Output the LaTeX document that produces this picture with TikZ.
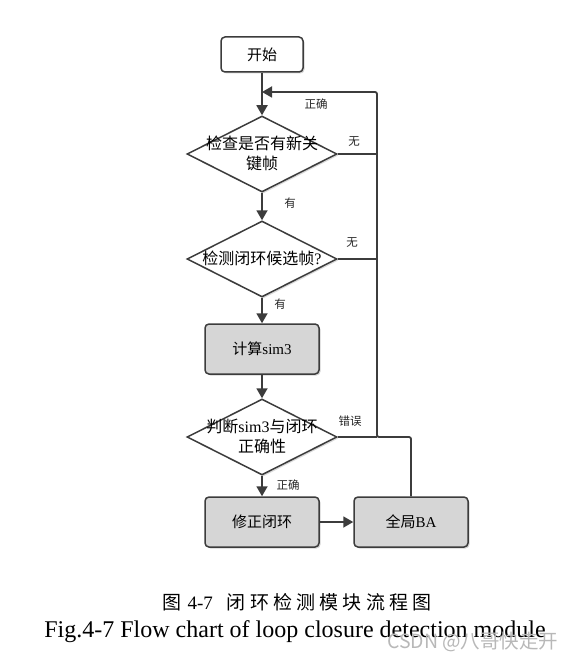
\documentclass[tikz,border=0pt]{standalone}
\usepackage{fontspec}
\setmainfont{Liberation Serif}
\newfontfamily\cjk{Noto Sans CJK SC}
\usetikzlibrary{arrows.meta,shapes.geometric,shadows}
\newcommand\zh[1]{{\cjk #1}}
\newcommand\cs{\hspace{4.2pt}}
\definecolor{linec}{HTML}{3C3C3C}
\definecolor{boxgray}{HTML}{D6D6D6}
\tikzset{
  flow/.style={draw=linec, line width=1.8pt},
  arr/.style={flow, -{Triangle[length=10pt,width=11pt]}},
  startbox/.style={draw=linec, line width=1.5pt, rounded corners=4pt, fill=white,
     minimum width=82pt, minimum height=35pt, inner sep=0pt, font=\fontsize{15}{17}\selectfont,
     drop shadow={shadow xshift=1.5pt, shadow yshift=-1.5pt, opacity=0.35}},
  graybox/.style={startbox, fill=boxgray, minimum width=114pt, minimum height=50pt},
  decide/.style={diamond, draw=linec, line width=1.5pt, fill=white, inner sep=0pt,
     minimum width=150pt, minimum height=76pt,
     drop shadow={shadow xshift=1.5pt, shadow yshift=-1.5pt, opacity=0.3}},
  dtext/.style={align=center, font=\fontsize{16}{20}\selectfont},
  lab/.style={font=\fontsize{11.5}{13}\selectfont, text=black!85, inner sep=0pt},
}
\begin{document}
\begin{tikzpicture}[x=1pt,y=-1pt]
\useasboundingbox (0,0) rectangle (578,660);
\node[startbox] (start) at (262,54.5) {\zh{开始}};
\node[decide] (d1) at (262,154) {};
\node[dtext] (t1) at (262,153) {\zh{检查是否有新关}\\\zh{键帧}};
\node[decide] (d2) at (262,259) {};
\node[dtext] (t2) at (262,258) {\zh{检测闭环候选帧}?};
\node[graybox] (sim) at (262,349) {\zh{计算}sim3};
\node[decide] (d3) at (262,437) {};
\node[dtext] (t3) at (262,436) {\zh{判断}sim3\zh{与闭环}\\\zh{正确性}};
\node[graybox] (fix) at (262,522) {\zh{修正闭环}};
\node[graybox] (ba) at (411,522) {\zh{全局}BA};

\coordinate (r3) at (377,437);
\coordinate (rtop) at (377,92);
\coordinate (j0) at (262,92);

\draw[arr] (start.south) -- (d1.north);
\draw[arr] (d1.south) -- (d2.north);
\draw[arr] (d2.south) -- (sim.north);
\draw[arr] (sim.south) -- (d3.north);
\draw[arr] (d3.south) -- (fix.north);
\draw[arr] (fix.east) -- (ba.west);
\draw[arr, rounded corners=2pt] (ba.north) |- (r3) -- (rtop) -- (j0);
\draw[flow] (d1.east) -- (d1.east -| r3);
\draw[flow] (d2.east) -- (d2.east -| r3);
\draw[flow] (d3.east) -- (r3);

\node[lab] (l1) at (316,104) {\zh{正确}};
\node[lab] (l2) at (354,142) {\zh{无}};
\node[lab] (l3) at (290,203) {\zh{有}};
\node[lab] (l4) at (352,243) {\zh{无}};
\node[lab] (l5) at (280,304) {\zh{有}};
\node[lab] (l6) at (350,421) {\zh{错误}};
\node[lab] (l7) at (288,485) {\zh{正确}};

\node[font=\fontsize{19}{22}\selectfont] (cap1) at (297,602) {\zh{图}\hspace{6pt}4-7\hspace{14pt}\zh{闭}\cs\zh{环}\cs\zh{检}\cs\zh{测}\cs\zh{模}\cs\zh{块}\cs\zh{流}\cs\zh{程}\cs\zh{图}};
\node[font=\fontsize{24}{27}\selectfont] (cap2) at (295,632) {Fig.4-7 Flow chart of loop closure detection module};
\node[font=\fontsize{19.5}{22}\selectfont, text=black!28, anchor=east] (wm) at (562,642) {\zh{CSDN @八哥快走开}};
\end{tikzpicture}
\end{document}
